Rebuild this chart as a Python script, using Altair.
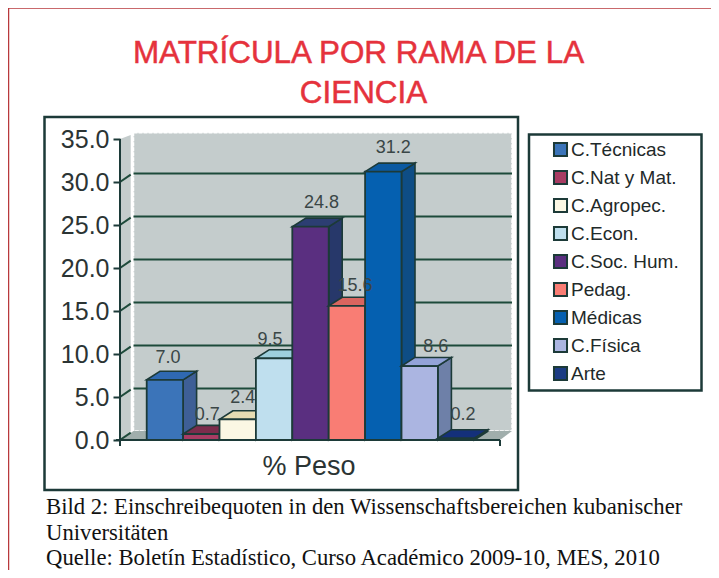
import altair as alt
import pandas as pd

# ---- data
categories = ["C.Técnicas", "C.Nat y Mat.", "C.Agropec.", "C.Econ.", "C.Soc. Hum.",
              "Pedag.", "Médicas", "C.Física", "Arte"]
values = [7.0, 0.7, 2.4, 9.5, 24.8, 15.6, 31.2, 8.6, 0.2]
y_ticks = [0, 5, 10, 15, 20, 25, 30, 35]
grid_values = [5, 10, 15, 20, 25, 30]
group_label = "% Peso"
title_lines = ["MATRÍCULA POR RAMA DE LA", "CIENCIA"]
caption_lines = ["Bild 2: Einschreibequoten in den Wissenschaftsbereichen kubanischer",
                 "Universitäten",
                 "Quelle: Boletín Estadístico, Curso Académico 2009-10, MES, 2010"]

# ---- styles
front_colors = ["#3b74b9", "#a83c63", "#fbf7e4", "#bfdfee", "#5a2f80",
                "#f97d74", "#0560b0", "#abb5e1", "#1b3c84"]
top_colors = ["#2f69b2", "#7c2c4c", "#e6dcb2", "#9dcfdc", "#2c3e72",
              "#d9655f", "#0b5aa2", "#93a3d8", "#14307a"]
side_colors = ["#3e5f96", "#6a2a48", "#cfc8a8", "#8fb4c4", "#27386a",
               "#c05a55", "#0e4d85", "#6e80a8", "#122a60"]
# label nudges (dx, dy) in pixels relative to each bar's top centre
label_nudge = [(3, -17), (6, -14), (5, -16), (-4, -13), (11, -19),
               (8, -15), (10, -19), (16, -14), (7, -18)]
DARK = "#1c3a38"
GRID = "#1d4a3a"
WALL = "#c4cccc"
FLOOR = "#a0aeac"
TXT = "#3a4646"
W, H = 703, 562
UX, UY = 36.4, 8.6          # px per bar, px per value
X0_PAGE, Y0_PAGE = 146.7, 440.0   # bar 0 left edge, value 0 on the page
DX, DY = 13.5 / UX, 1.0     # 3-D depth


def ux(p):
    return (p - X0_PAGE) / UX


def uy(p):
    return (Y0_PAGE - p) / UY


xs = alt.Scale(domain=[ux(8), ux(8 + W)], range=[0, W], nice=False, zero=False)
ys = alt.Scale(domain=[uy(8 + H), uy(8)], range=[H, 0], nice=False, zero=False)

# the same y axis on every layer, so the shared axis is kept when layers merge
Y_AXIS = alt.Axis(values=y_ticks, format=".1f", offset=-112, domain=False, grid=False,
                  tickSize=7, tickWidth=2, tickColor=DARK, zindex=1,
                  labelFont="Liberation Sans", labelFontSize=25, labelColor="#2b3434",
                  labelPadding=4)


def X(f="x"):
    return alt.X(f"{f}:Q", scale=xs, axis=None, title=None, stack=None)


def Y(f="y"):
    return alt.Y(f"{f}:Q", scale=ys, axis=Y_AXIS, title=None, stack=None)


def rect(df, **kw):
    return alt.Chart(pd.DataFrame(df)).mark_rect(**kw).encode(
        x=X(), x2="x2:Q", y=Y(), y2="y2:Q")


def vface(rows, **kw):   # parallelogram with vertical ends
    return alt.Chart(pd.DataFrame(rows)).mark_area(orient="vertical", **kw).encode(
        x=X(), y=Y(), y2="y2:Q")


def hface(rows, **kw):   # parallelogram with horizontal ends
    return alt.Chart(pd.DataFrame(rows)).mark_area(orient="horizontal", **kw).encode(
        y=Y(), x=X(), x2="x2:Q")


layers = []

# page border and frames
layers.append(alt.Chart(pd.DataFrame({"a": [0]})).mark_rect(fill="white", stroke="#b8383c", strokeWidth=1.5).encode(
    x=alt.value(0.5), x2=alt.value(W + 2), y=alt.value(0), y2=alt.value(H + 2)))
layers.append(alt.Chart(pd.DataFrame({"a": [0]})).mark_rect(fill="white", stroke=DARK, strokeWidth=2.5).encode(
    x=alt.value(36.5), x2=alt.value(510), y=alt.value(109), y2=alt.value(482)))
layers.append(alt.Chart(pd.DataFrame({"a": [0]})).mark_rect(fill="white", stroke=DARK, strokeWidth=2.5).encode(
    x=alt.value(521), x2=alt.value(693.5), y=alt.value(126.5), y2=alt.value(382.5)))

# walls and floor
ax_l, ax_r = ux(120), ux(500)
wall_l, wall_r = ux(133.5), ux(512)
layers.append(vface([{"x": ax_l, "y": 35, "y2": 0},
                     {"x": ux(130.7), "y": uy(135), "y2": uy(431)}], fill=WALL))
layers.append(rect([{"x": wall_l, "x2": wall_r, "y": uy(132.7), "y2": uy(431)}],
                   fill=WALL, stroke="white", strokeWidth=1.5, strokeDash=[4, 1]))
layers.append(hface([{"y": 0, "x": ax_l, "x2": ax_r},
                     {"y": uy(431), "x": wall_l, "x2": wall_r}], fill=FLOOR))

# gridlines on the back wall and along the side wall
layers.append(alt.Chart(pd.DataFrame({"v": grid_values})).transform_calculate(
    y=f"datum.v + {DY}", x=str(wall_l), x2=str(wall_r)
).mark_rule(color=GRID, strokeWidth=2).encode(x=X(), x2="x2:Q", y=Y()))
diag = []
for v in grid_values + [0]:
    diag.append({"g": v, "x": ax_l, "y": v, "o": 0})
    diag.append({"g": v, "x": ux(130.7), "y": v + 0.85, "o": 1})
layers.append(alt.Chart(pd.DataFrame(diag)).mark_line(color=GRID, strokeWidth=2).encode(
    x=X(), y=Y(), detail="g:N", order="o:Q"))

# bars, painted left to right
for i, (c, v) in enumerate(zip(categories, values)):
    l, r = float(i), float(i + 1)
    layers.append(vface([{"x": r, "y": v, "y2": 0},
                         {"x": r + DX, "y": v + DY, "y2": DY}],
                        fill=side_colors[i], stroke=DARK, strokeWidth=1.6))
    layers.append(hface([{"y": v, "x": l, "x2": r},
                         {"y": v + DY, "x": l + DX, "x2": r + DX}],
                        fill=top_colors[i], stroke=DARK, strokeWidth=1.6))
    layers.append(alt.Chart(pd.DataFrame({"cat": [c], "x": [l], "x2": [r], "y": [v], "y2": [0.0]}))
                  .mark_rect(stroke=DARK, strokeWidth=1.8)
                  .encode(x=X(), x2="x2:Q", y=Y(), y2="y2:Q",
                          fill=alt.Fill("cat:N", sort=categories,
                                        scale=alt.Scale(domain=categories, range=front_colors),
                                        legend=alt.Legend(
                                            title=None, orient="none", legendX=535, legendY=132,
                                            symbolType="square", symbolSize=170,
                                            symbolStrokeColor=DARK, symbolStrokeWidth=2,
                                            symbolOpacity=1,
                                            labelFont="Liberation Sans", labelFontSize=19,
                                            labelColor="#1f2a2a", labelLimit=200,
                                            rowPadding=5, labelOffset=1, symbolOffset=8,
                                            padding=0))))

# axis lines
layers.append(alt.Chart(pd.DataFrame({"x": [ax_l], "y": [35], "y2": [0]})).mark_rule(
    color=DARK, strokeWidth=2).encode(x=X(), y=Y(), y2="y2:Q"))
layers.append(alt.Chart(pd.DataFrame({"x": [ux(116)], "x2": [ax_r], "y": [0]})).mark_rule(
    color=DARK, strokeWidth=2).encode(x=X(), x2="x2:Q", y=Y()))
layers.append(alt.Chart(pd.DataFrame({"x": [ax_l, ax_r], "y": [0, 0], "y2": [-0.7, -0.7]})).mark_rule(
    color=DARK, strokeWidth=2).encode(x=X(), y=Y(), y2="y2:Q"))

# data labels
lab = pd.DataFrame({"x": [i + 0.5 for i in range(9)], "y": values,
                    "t": [f"{v:.1f}" for v in values]})
for i in range(9):
    layers.append(alt.Chart(lab.iloc[[i]]).mark_text(
        font="Liberation Sans", fontSize=18, color=TXT, align="center", baseline="alphabetic",
        dx=label_nudge[i][0], dy=label_nudge[i][1]
    ).encode(x=X(), y=Y(), text="t:N"))

# fixed text


def note(txt, x, y, **kw):
    return alt.Chart(pd.DataFrame({"a": [0]})).mark_text(baseline="alphabetic", **kw).encode(
        x=alt.value(x), y=alt.value(y), text=alt.value(txt))


layers.append(note(group_label, 301, 467, font="Liberation Sans", fontSize=27, color="#2b3434", align="center"))
layers.append(note(title_lines[0], 350.5, 55, font="Liberation Sans", fontSize=31.4, color="#e5323c",
                   align="center", stroke="#e5323c", strokeWidth=0.5))
layers.append(note(title_lines[1], 355.5, 95, font="Liberation Sans", fontSize=31.4, color="#e5323c",
                   align="center", stroke="#e5323c", strokeWidth=0.5))
for t, y in zip(caption_lines, [506, 532, 557]):
    layers.append(note(t, 38, y, font="Liberation Serif", fontSize=22.7, color="#111111", align="left"))

chart = alt.layer(*layers).properties(
    width=W, height=H, padding=0, autosize=alt.AutoSizeParams(type="none"),
    background="white"
).configure_view(stroke=None)

chart.save("out.html", embed_options={"renderer": "svg", "actions": False})
